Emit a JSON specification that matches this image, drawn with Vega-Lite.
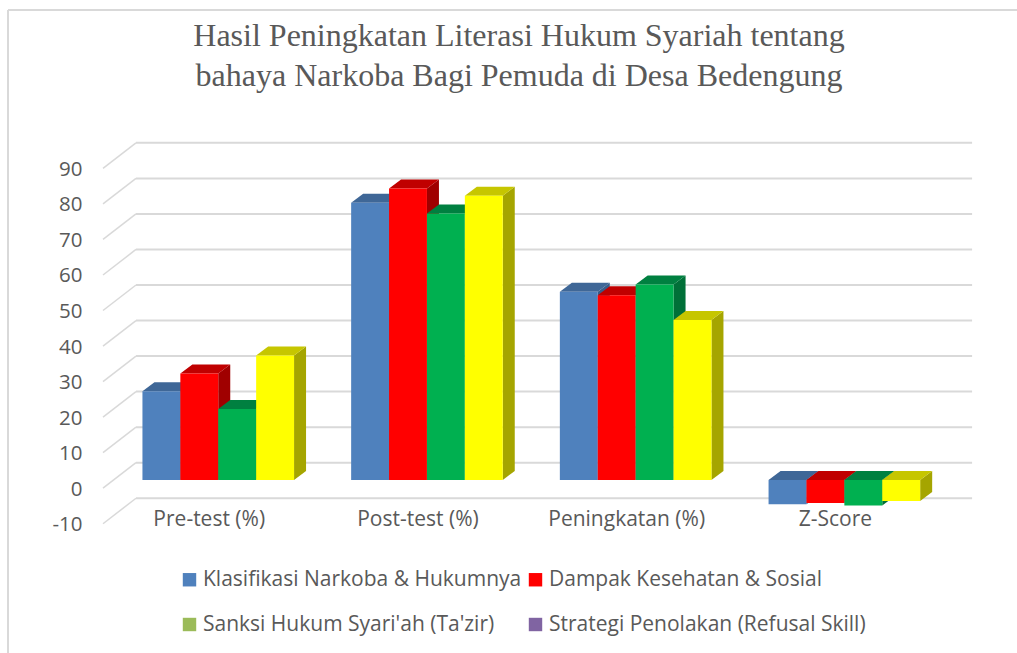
{
"$schema":"https://vega.github.io/schema/vega-lite/v6.json",
"width":1009,"height":643,"autosize":{"type":"none"},
"padding":{"left":8,"top":10,"right":0,"bottom":0},
"background":"white",
"title":{"text":["Hasil Peningkatan Literasi Hukum Syariah tentang","bahaya Narkoba Bagi Pemuda di Desa Bedengung"],"font":"Liberation Serif","fontSize":32,"fontWeight":"normal","color":"#595959","lineHeight":40,"anchor":"middle","frame":"group","dx":6.5,"baseline":"top","offset":-84},
"config":{"view":{"stroke":null},"legend":{"orient":"none"}},
"data":{"values":[
{"category":"Pre-test (%)","series":"Klasifikasi Narkoba & Hukumnya","value":25},
{"category":"Pre-test (%)","series":"Dampak Kesehatan & Sosial","value":30},
{"category":"Pre-test (%)","series":"Sanksi Hukum Syari'ah (Ta'zir)","value":20},
{"category":"Pre-test (%)","series":"Strategi Penolakan (Refusal Skill)","value":35},
{"category":"Post-test (%)","series":"Klasifikasi Narkoba & Hukumnya","value":78},
{"category":"Post-test (%)","series":"Dampak Kesehatan & Sosial","value":82},
{"category":"Post-test (%)","series":"Sanksi Hukum Syari'ah (Ta'zir)","value":75},
{"category":"Post-test (%)","series":"Strategi Penolakan (Refusal Skill)","value":80},
{"category":"Peningkatan (%)","series":"Klasifikasi Narkoba & Hukumnya","value":53},
{"category":"Peningkatan (%)","series":"Dampak Kesehatan & Sosial","value":52},
{"category":"Peningkatan (%)","series":"Sanksi Hukum Syari'ah (Ta'zir)","value":55},
{"category":"Peningkatan (%)","series":"Strategi Penolakan (Refusal Skill)","value":45},
{"category":"Z-Score","series":"Klasifikasi Narkoba & Hukumnya","value":-6.8},
{"category":"Z-Score","series":"Dampak Kesehatan & Sosial","value":-6.5},
{"category":"Z-Score","series":"Sanksi Hukum Syari'ah (Ta'zir)","value":-7.2},
{"category":"Z-Score","series":"Strategi Penolakan (Refusal Skill)","value":-5.9}
]},
"transform":[
{"calculate":"indexof(['Pre-test (%)','Post-test (%)','Peningkatan (%)','Z-Score'],datum.category)","as":"c"},
{"calculate":"indexof(['Klasifikasi Narkoba & Hukumnya','Dampak Kesehatan & Sosial',\"Sanksi Hukum Syari'ah (Ta'zir)\",'Strategi Penolakan (Refusal Skill)'],datum.series)","as":"s"},
{"calculate":"datum.c+0.1368+datum.s*0.1816","as":"x0"},
{"calculate":"datum.x0+0.1816","as":"x1"},
{"calculate":"max(datum.value,0)","as":"top"},
{"calculate":"min(datum.value,0)","as":"base"},
{"calculate":"datum.category+'|'+datum.series","as":"bar"}
],
"resolve":{"scale":{"fill":"independent"},"axis":{"x":"independent","y":"independent"}},
"layer":[
{"data":{"values":[{"frame":"left"}]},"mark":{"type":"rule","stroke":"#D9D9D9","strokeWidth":2},
 "encoding":{"x":{"datum":-0.5074,"type":"quantitative","axis":null,"scale":{"domain":[-0.5074,4.3272],"nice":false,"zero":false}}}},
{"data":{"values":[{"frame":"top"}]},"mark":{"type":"rule","stroke":"#D9D9D9","strokeWidth":2},
 "encoding":{"y":{"datum":132.25,"type":"quantitative","axis":null,"scale":{"domain":[-48.68,132.25],"nice":false,"zero":false}}}},
{"data":{"name":"grid","values":[{"g":-10},{"g":0},{"g":10},{"g":20},{"g":30},{"g":40},{"g":50},{"g":60},{"g":70},{"g":80},{"g":90}]},
 "transform":[{"calculate":"datum.g-2.31","as":"yf"},{"calculate":"datum.g+4.87","as":"yb"}],
 "mark":{"type":"rule","stroke":"#D9D9D9","strokeWidth":1.5},
 "encoding":{"x":{"datum":-0.0522,"type":"quantitative","axis":null,"scale":{"domain":[-0.5074,4.3272],"nice":false,"zero":false}},"x2":{"datum":0.1059},
 "y":{"field":"yf","type":"quantitative","axis":null,"scale":{"domain":[-48.68,132.25],"nice":false,"zero":false}},"y2":{"field":"yb"}}},
{"data":{"values":[{"g":-10},{"g":0},{"g":10},{"g":20},{"g":30},{"g":40},{"g":50},{"g":60},{"g":70},{"g":80},{"g":90}]},
 "transform":[{"calculate":"datum.g+4.87","as":"yb"}],
 "mark":{"type":"rule","stroke":"#D9D9D9","strokeWidth":2},
 "encoding":{"x":{"datum":0.1059,"type":"quantitative","axis":null,"scale":{"domain":[-0.5074,4.3272],"nice":false,"zero":false}},"x2":{"datum":4.112},
 "y":{"field":"yb","type":"quantitative","axis":null,"scale":{"domain":[-48.68,132.25],"nice":false,"zero":false}}}},
{"transform":[
 {"calculate":"[0,1]","as":"k"},{"flatten":["k"]},
 {"calculate":"datum.x1+datum.k*0.0575","as":"px"},
 {"calculate":"datum.top+datum.k*2.53","as":"pu"},
 {"calculate":"datum.base+datum.k*2.53","as":"pl"}],
 "mark":{"type":"area","interpolate":"linear"},
 "encoding":{"x":{"field":"px","type":"quantitative","axis":null,"scale":{"domain":[-0.5074,4.3272],"nice":false,"zero":false}},
 "y":{"field":"pu","type":"quantitative","axis":null,"stack":null,"scale":{"domain":[-48.68,132.25],"nice":false,"zero":false}},"y2":{"field":"pl"},
 "detail":{"field":"bar"},
 "fill":{"field":"series","type":"nominal","legend":null,"scale":{"domain":["Klasifikasi Narkoba & Hukumnya","Dampak Kesehatan & Sosial","Sanksi Hukum Syari'ah (Ta'zir)","Strategi Penolakan (Refusal Skill)"],"range":["#385D8A","#A00000","#007038","#A5A500"]}}}},
{"transform":[
 {"calculate":"[0,1,2,3]","as":"k"},{"flatten":["k"]},
 {"calculate":"[datum.x0,datum.x0+0.0575,datum.x1,datum.x1+0.0575][datum.k]","as":"px"},
 {"calculate":"datum.k==0?datum.top:datum.top+2.53","as":"pu"},
 {"calculate":"datum.k==3?datum.top+2.53:datum.top","as":"pl"}],
 "mark":{"type":"area","interpolate":"linear"},
 "encoding":{"x":{"field":"px","type":"quantitative","axis":null,"scale":{"domain":[-0.5074,4.3272],"nice":false,"zero":false}},
 "y":{"field":"pu","type":"quantitative","axis":null,"stack":null,"scale":{"domain":[-48.68,132.25],"nice":false,"zero":false}},"y2":{"field":"pl"},
 "detail":{"field":"bar"},
 "fill":{"field":"series","type":"nominal","legend":null,"scale":{"domain":["Klasifikasi Narkoba & Hukumnya","Dampak Kesehatan & Sosial","Sanksi Hukum Syari'ah (Ta'zir)","Strategi Penolakan (Refusal Skill)"],"range":["#3F6797","#C00000","#008040","#C6C600"]}}}},
{"mark":{"type":"rect"},
 "encoding":{"x":{"field":"x0","type":"quantitative","scale":{"domain":[-0.5074,4.3272],"nice":false,"zero":false},
   "axis":{"title":null,"orient":"bottom","offset":-145,"values":[0.5,1.5,2.5,3.5],"labelExpr":"['Pre-test (%)','Post-test (%)','Peningkatan (%)','Z-Score'][round(datum.value-0.5)]","labelOffset":-9.5,"domain":false,"ticks":false,"grid":false,"labelFont":"Open Sans","labelFontSize":21,"labelColor":"#595959","labelPadding":0,"labelOverlap":false,"labelBound":false,"labelFlush":false}},
 "x2":{"field":"x1"},
 "y":{"field":"top","type":"quantitative","stack":null,"scale":{"domain":[-48.68,132.25],"nice":false,"zero":false},
   "axis":{"title":null,"orient":"left","offset":-74,"values":[-10,0,10,20,30,40,50,60,70,80,90],"labelExpr":"''+datum.value","labelOffset":9.2,"domain":false,"ticks":false,"grid":false,"labelFont":"Open Sans","labelFontSize":20.5,"labelColor":"#595959","labelPadding":0,"labelOverlap":false,"labelBound":false,"labelFlush":false}},
 "y2":{"field":"base"},
 "fill":{"field":"series","type":"nominal","legend":null,"scale":{"domain":["Klasifikasi Narkoba & Hukumnya","Dampak Kesehatan & Sosial","Sanksi Hukum Syari'ah (Ta'zir)","Strategi Penolakan (Refusal Skill)"],"range":["#4F81BD","#FF0000","#00B050","#FFFF00"]}}}},
{"transform":[{"filter":"false"}],"mark":{"type":"square","filled":true},
 "encoding":{"x":{"field":"x0","type":"quantitative","axis":null,"scale":{"domain":[-0.5074,4.3272],"nice":false,"zero":false}},
 "y":{"field":"top","type":"quantitative","axis":null,"scale":{"domain":[-48.68,132.25],"nice":false,"zero":false}},
 "fill":{"field":"series","type":"nominal","scale":{"domain":["Klasifikasi Narkoba & Hukumnya","Dampak Kesehatan & Sosial","Sanksi Hukum Syari'ah (Ta'zir)","Strategi Penolakan (Refusal Skill)"],"range":["#4F81BD","#FF0000","#9BBB59","#8064A2"]},
 "legend":{"title":null,"orient":"none","direction":"horizontal","legendX":171,"legendY":559,"columns":2,"symbolType":"square","symbolSize":180,"symbolStrokeWidth":0,"symbolOpacity":1,"labelFont":"Open Sans","labelFontSize":21,"labelColor":"#595959","rowPadding":23,"columnPadding":3,"labelOffset":3,"labelLimit":500}}}}
]}
